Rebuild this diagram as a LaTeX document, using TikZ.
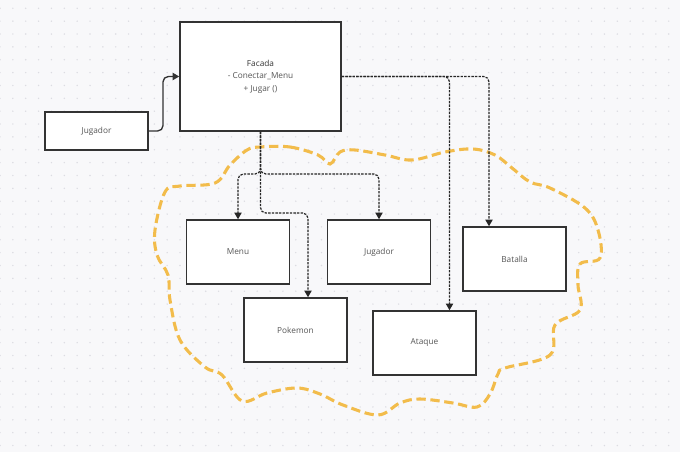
\documentclass[tikz,border=0pt]{standalone}
\usepackage{fontspec}
\setmainfont{Open Sans}
\usetikzlibrary{arrows.meta,calc}
\definecolor{bgc}{HTML}{F8F8FA}
\definecolor{dotc}{HTML}{DCDCE2}
\definecolor{blob}{HTML}{F2BC4B}
\definecolor{txt}{HTML}{555555}
\definecolor{edge}{HTML}{333333}
\tikzset{
  box/.style={draw=edge, line width=1.15pt, fill=white, inner sep=0pt, text=txt,
    font=\fontsize{6.2}{9.4}\selectfont, align=center},
  smallbox/.style={box, minimum width=77.25pt, minimum height=48pt},
  conn/.style={draw=black!85, line width=0.9pt, dash pattern={on 1.8pt off 0.9pt},
    rounded corners=4pt, -{Triangle[length=5pt,width=5.5pt]}},
  solidconn/.style={draw=edge, line width=1pt, rounded corners=4pt, -{Triangle[length=5pt,width=5.5pt]}}
}
\begin{document}
\begin{tikzpicture}[x=0.75pt,y=-0.75pt]
\fill[bgc] (0,0) rectangle (680,452);
\useasboundingbox (0,0) rectangle (680,452);
\foreach \i in {0,...,52}{
  \foreach \j in {0,...,34}{
    \fill[dotc] ({\i*12.86},{8.3+\j*12.86}) circle[radius=0.6pt];
  }
}
% blob
\draw[blob, line width=2.3pt, dash pattern={on 7pt off 3.5pt}]
  plot[smooth cycle, tension=0.6] coordinates {
  (260,147) (290,147) (318,155) (330,164) (340,152) (355,150) (385,155) (412,160)
  (445,152) (473,149) (495,155) (512,168) (530,182) (550,188) (585,208) (598,230)
  (600,258) (580,264) (578,285) (580,310) (555,325) (550,355) (505,368) (498,374)
  (490,394) (477,407) (453,403) (420,399) (400,403) (378,415) (343,405) (320,394)
  (297,388) (267,393) (242,401) (222,375) (205,367) (180,340) (170,300) (168,275)
  (157,255) (155,230) (165,192) (180,186) (215,183) (230,165) (247,150)};
% nodes
\node[box, minimum width=120.75pt, minimum height=81.75pt] (fac) at (260.5,76.5)
  {\textcolor{edge}{Facada}\\- Conectar\_Menu\\+ Jugar ()};
\node[box, minimum width=77.25pt, minimum height=28.5pt] (j1) at (96.5,131) {Jugador};
\node[smallbox] (menu) at (238,252) {Menu};
\node[smallbox] (j2) at (379,252) {Jugador};
\node[smallbox] (poke) at (295.5,330) {Pokemon};
\node[smallbox] (ataq) at (424.5,343) {Ataque};
\node[smallbox] (bat) at (514.5,259) {Batalla};
% connectors
\draw[solidconn] (j1.east) -- (163,131) |- (fac.west);
\draw[conn] (fac.south) -- (fac.south |- {(0,174)}) -| (menu.north);
\draw[conn] (fac.south) -- (fac.south |- {(0,174)}) -| (j2.north);
\draw[conn] (fac.south) -- (fac.south |- {(0,213)}) -| (poke.north -| {(308,0)});
\draw[conn] (fac.east) -- (449.5,76.5) -- (ataq.north -| {(449.5,0)});
\draw[conn] (fac.east) -- (489,76.5) -- (bat.north -| {(489,0)});
\end{tikzpicture}
\end{document}
